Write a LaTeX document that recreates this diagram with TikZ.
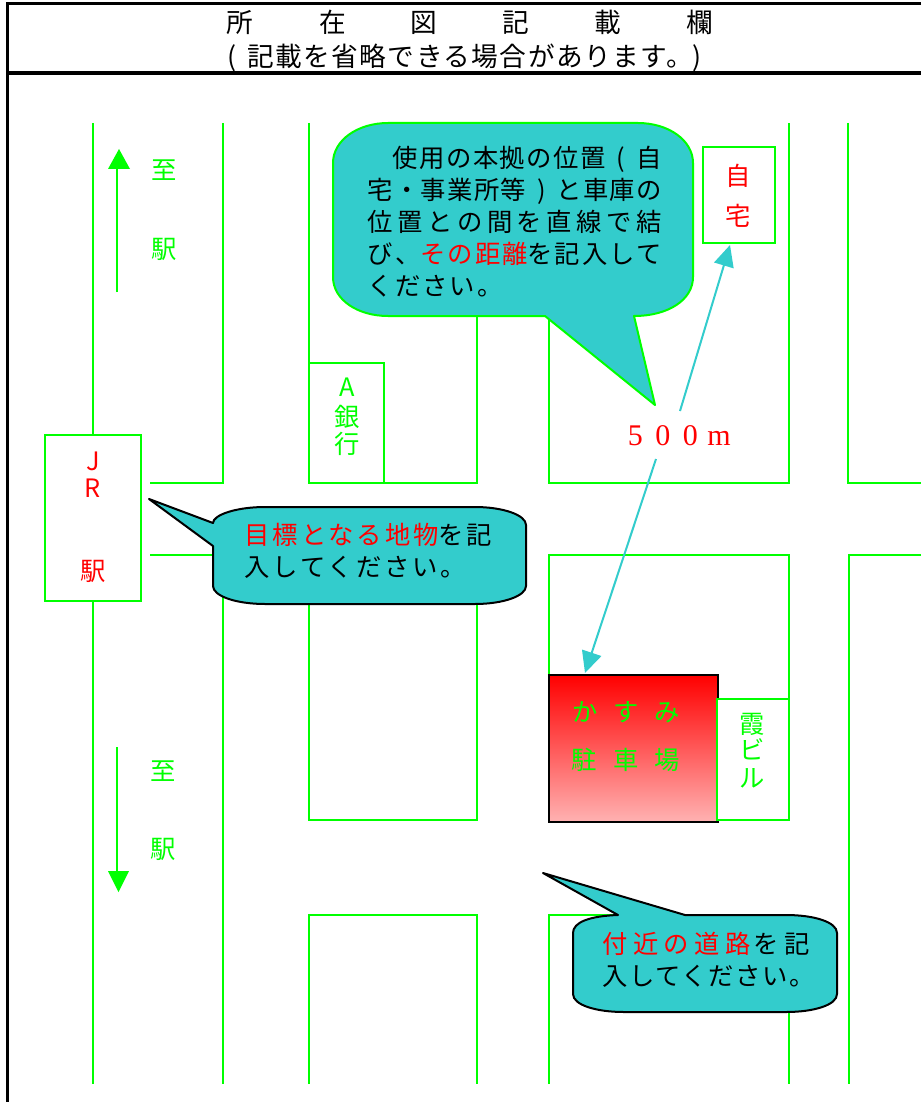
\documentclass[tikz,border=0pt]{standalone}
\usepackage{fontspec}
\setmainfont{Noto Sans CJK JP}
\newfontfamily\numserif{Liberation Serif}
\usetikzlibrary{arrows.meta}
\definecolor{road}{RGB}{0,255,0}
\definecolor{teal1}{RGB}{51,204,204}
\definecolor{pinkend}{RGB}{255,178,178}
\newcommand{\lsp}[1]{\addfontfeature{LetterSpace=#1}}
\newcommand{\lparen}[2][l]{\makebox[#2][#1]{(}}
\newcommand{\rparen}[2][l]{\makebox[#2][#1]{)}}
\tikzset{
 roadline/.style={draw=road,line width=1.5pt,line join=miter},
 bldg/.style={draw=road,line width=1.5pt,fill=white,inner sep=0pt,outer sep=0pt,anchor=north west},
 frameline/.style={draw=black,line width=2.4pt},
 green callout/.style={draw=road,line width=1.5pt,fill=teal1,line join=round},
 black callout/.style={draw=black,line width=1.5pt,fill=teal1,line join=round},
 tline/.style={inner sep=0pt,anchor=west,text height=16.7pt,text depth=2.3pt,font=\fontsize{19}{19}\selectfont},
 tchar/.style={inner sep=0pt,text height=16.7pt,text depth=2.3pt,font=\fontsize{19}{19}\selectfont},
 titlefont/.style={font=\fontsize{20}{20}\selectfont},
 shaft/.style={draw=road,line width=1.5pt},
 headfill/.style={fill=road,draw=none},
 distarrow/.style={draw=teal1,line width=1.5pt,-{Triangle[length=16pt,width=15pt,fill=teal1]}},
}
\begin{document}
\begin{tikzpicture}[x=0.75pt,y=-0.75pt]
\useasboundingbox (0,0) rectangle (921,1102);
% frame
\draw[frameline] (921,3.5) -- (7.5,3.5) -- (7.5,1102);
\draw[frameline] (7.5,73) -- (921,73);
% roads
\draw[roadline] (93,123) -- (93,435);
\draw[roadline] (93,601) -- (93,1084);
\draw[roadline] (223,123) -- (223,483) -- (150,483);
\draw[roadline] (150,555) -- (223,555) -- (223,1084);
\draw[roadline] (309,123) -- (309,483) -- (477,483) -- (477,123);
\draw[roadline] (549,123) -- (549,483) -- (789,483) -- (789,123);
\draw[roadline] (848,123) -- (848,483) -- (921,483);
\draw[roadline] (309,555) rectangle (477,820);
\draw[roadline] (549,555) rectangle (789,820);
\draw[roadline] (921,555) -- (849,555) -- (849,1084);
\draw[roadline] (309,1084) -- (309,915) -- (477,915) -- (477,1084);
\draw[roadline] (549,1084) -- (549,915) -- (789,915) -- (789,1084);
% buildings
\node[bldg,minimum width=72pt,minimum height=124.5pt] (station) at (45,435) {};
\node[bldg,minimum width=56.25pt,minimum height=90pt] (bank) at (309,363) {};
\node[bldg,minimum width=54pt,minimum height=72pt] (home) at (703,147) {};
\node[draw=black,line width=1.5pt,top color=red,bottom color=pinkend,inner sep=0pt,outer sep=0pt,anchor=north west,minimum width=126.75pt,minimum height=110.25pt] (parking) at (549,675) {};
\node[bldg,minimum width=54pt,minimum height=90.75pt] (kasumibld) at (717,699) {};
% direction arrows
\coordinate (upS) at (117,292); \coordinate (upE) at (117,165);
\coordinate (dnS) at (117,747); \coordinate (dnE) at (117,875);
\draw[shaft] (upS) -- (upE);
\fill[headfill] (108,169) -- (119,149) -- (130,169) -- cycle;
\draw[shaft] (dnS) -- (dnE);
\fill[headfill] (108,871) -- (129,871) -- (118.5,892) -- cycle;
% distance
\node[inner sep=0pt,anchor=base west,text=red,font=\numserif\fontsize{22.5}{22.5}\selectfont] (dist) at (627.5,445) {\addfontfeature{LetterSpace=42}500\hspace{7pt}m};
\coordinate (d1) at (680,411); \coordinate (d1e) at (730,245);
\coordinate (d2) at (656,459); \coordinate (d2e) at (585,673);
\draw[distarrow] (d1) -- (d1e);
\draw[distarrow] (d2) -- (d2e);
% callouts
\draw[green callout] (388,123) -- (638,123) .. controls (668,123) and (693,140) .. (693,163) -- (693,277) .. controls (693,300) and (668,316) .. (634,316) -- (655,405) -- (545,316) -- (388,316) .. controls (358,316) and (333,300) .. (333,277) -- (333,163) .. controls (333,140) and (358,123) .. (388,123) -- cycle;
\draw[black callout] (265,507) -- (475,507) .. controls (503,507) and (526,515) .. (526,525) -- (526,586) .. controls (526,596) and (503,604) .. (475,604) -- (265,604) .. controls (236,604) and (213,596) .. (213,586) -- (213,546) -- (149,499) -- (213,523) .. controls (213,515) and (236,507) .. (265,507) -- cycle;
\draw[black callout] (685,915) -- (786,915) .. controls (814,915) and (837,922) .. (837,933) -- (837,994) .. controls (837,1005) and (814,1012) .. (786,1012) -- (624,1012) .. controls (596,1012) and (573,1005) .. (573,994) -- (573,933) .. controls (573,922) and (590,916) .. (618,915) -- (543,873) -- cycle;
% title
\node[tchar,titlefont] (t1) at (240,23) {所};
\node[tchar,titlefont] (t2) at (333,23) {在};
\node[tchar,titlefont] (t3) at (424,23) {図};
\node[tchar,titlefont] (t4) at (516,23) {記};
\node[tchar,titlefont] (t5) at (608,23) {載};
\node[tchar,titlefont] (t6) at (700,23) {欄};
\node[tline,titlefont] (t7) at (227,57) {\lsp{5.5}\lparen{15pt}記載を省略できる場合があります。\rparen{20pt}};
% labels
\node[tchar,text=road] (a1) at (164,170) {至};
\node[tchar,text=road] (a2) at (164,249) {駅};
\node[tchar,text=road] (a3) at (163,771) {至};
\node[tchar,text=road] (a4) at (163,849) {駅};
\node[tchar,text=red] (j1) at (93,461) {J};
\node[tchar,text=red] (j2) at (93,488) {R};
\node[tchar,text=red] (j3) at (93,571) {駅};
\node[tchar,text=road] (b1) at (347,387) {A};
\node[tchar,text=road] (b2) at (347,417) {銀};
\node[tchar,text=road] (b3) at (347,444) {行};
\node[tchar,text=red] (h1) at (738,176) {自};
\node[tchar,text=red] (h2) at (738,216) {宅};
\node[tchar,text=road] (k1) at (752,724) {霞};
\node[tchar,text=road] (k2) at (752,750) {ビ};
\node[tchar,text=road] (k3) at (752,778) {ル};
\node[tchar,text=road] (p1) at (585,712) {か};
\node[tchar,text=road] (p2) at (626,712) {す};
\node[tchar,text=road] (p3) at (667,712) {み};
\node[tchar,text=road] (p4) at (584,760) {駐};
\node[tchar,text=road] (p5) at (626,760) {車};
\node[tchar,text=road] (p6) at (667,760) {場};
% callout text
\node[tline] (c1) at (392.5,158) {\lsp{5.6}使用の本拠の位置\lparen[c]{23pt}自};
\node[tline] (c2) at (367.5,190) {\lsp{5}宅・事業所等\rparen[c]{23pt}と車庫の};
\node[tline] (c3) at (367.5,222) {\lsp{18}位置との間を直線で結};
\node[tline] (c4) at (367.5,254) {\lsp{7.8}び、\textcolor{red}{その距離}を記入して};
\node[tline] (c5) at (367.5,286) {\lsp{8}ください。};
\node[tline] (e1) at (244.5,535) {\lsp{11.5}\textcolor{red}{目標となる地物}を\hspace{1.5pt}記};
\node[tline] (e2) at (244.5,567) {\lsp{11.5}入してください。};
\node[tline] (f1) at (602,944) {\lsp{21.5}\textcolor{red}{付近の道路}\hspace{2pt}を\hspace{4pt}記};
\node[tline] (f2) at (602,976) {\lsp{6.5}入してください。};
\end{tikzpicture}
\end{document}
